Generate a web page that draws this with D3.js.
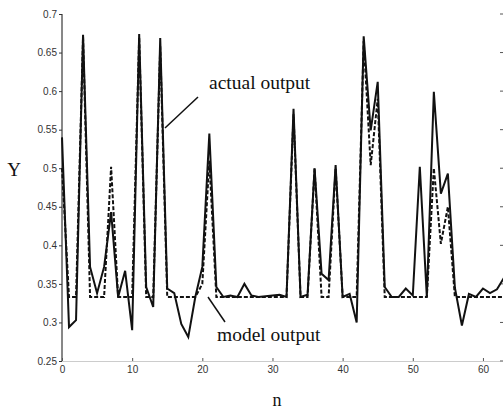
<!DOCTYPE html>
<meta charset="utf-8" />
<style>
  body {
    margin: 0;
    background: #fff;
  }

  .tick text {
    font-family: "Liberation Sans", Arial, sans-serif;
    font-size: 10px;
    fill: #333;
  }

  .label {
    font-family: "Liberation Serif", "Times New Roman", serif;
    fill: #111;
  }

  .series {
    fill: none;
    stroke: #111;
    stroke-width: 2px;
    stroke-linejoin: miter;
  }
</style>
<svg width="503" height="412"></svg>
<script src="https://d3js.org/d3.v7.min.js"></script>
<script>
  // values, n = 0..63
  var actual = [
    0.54, 0.294, 0.303, 0.673, 0.372, 0.338, 0.372, 0.443, 0.333, 0.367,
    0.29, 0.674, 0.346, 0.32, 0.669, 0.344, 0.338, 0.298, 0.281, 0.333,
    0.372, 0.545, 0.346, 0.333, 0.335, 0.333, 0.35, 0.335, 0.333, 0.334,
    0.335, 0.336, 0.333, 0.577, 0.333, 0.336, 0.5, 0.363, 0.355, 0.504,
    0.333, 0.337, 0.3, 0.671, 0.549, 0.612, 0.346, 0.333, 0.333, 0.344,
    0.335, 0.502, 0.333, 0.599, 0.467, 0.493, 0.345, 0.296, 0.337, 0.333,
    0.344, 0.338, 0.343, 0.358
  ];
  var model = [
    0.5, 0.333, 0.333, 0.67, 0.333, 0.333, 0.333, 0.502, 0.333, 0.333,
    0.333, 0.67, 0.333, 0.333, 0.658, 0.333, 0.333, 0.333, 0.333, 0.333,
    0.35, 0.51, 0.333, 0.333, 0.333, 0.333, 0.333, 0.333, 0.333, 0.333,
    0.333, 0.333, 0.333, 0.57, 0.333, 0.333, 0.5, 0.333, 0.333, 0.5,
    0.333, 0.333, 0.333, 0.665, 0.504, 0.59, 0.333, 0.333, 0.333, 0.333,
    0.333, 0.333, 0.333, 0.5, 0.402, 0.45, 0.333, 0.333, 0.333, 0.333,
    0.333, 0.333, 0.333, 0.333
  ];
  var xTicks = [0, 10, 20, 30, 40, 50, 60];
  var yTicks = [0.25, 0.3, 0.35, 0.4, 0.45, 0.5, 0.55, 0.6, 0.65, 0.7];

  var svg = d3.select("svg");

  var x = d3.scaleLinear().domain([0, 63]).range([62, 504]);
  var y = d3.scaleLinear().domain([0.25, 0.7]).range([361, 14]);

  // left axis
  var yAxis = svg
    .append("g")
    .attr("transform", "translate(62,0)")
    .call(
      d3.axisLeft(y).tickValues(yTicks).tickSize(3).tickPadding(2)
        .tickFormat(d3.format(""))
    );
  yAxis.select(".domain").attr("stroke", "#111").attr("d", "M0,14V361");
  yAxis.selectAll(".tick line").attr("stroke", "#333");

  // right side ticks only (box edge falls off the picture)
  svg
    .append("g")
    .selectAll("line")
    .data(yTicks)
    .enter()
    .append("line")
    .attr("x1", 504)
    .attr("x2", 500)
    .attr("y1", function (d) {
      return y(d);
    })
    .attr("y2", function (d) {
      return y(d);
    })
    .attr("stroke", "#555");

  // bottom axis, dotted
  var xAxis = svg
    .append("g")
    .attr("transform", "translate(0,361)")
    .call(d3.axisBottom(x).tickValues(xTicks).tickSizeInner(-3).tickSizeOuter(0).tickPadding(5));
  xAxis
    .select(".domain")
    .attr("stroke", "#999")
    .attr("stroke-dasharray", "1,1");
  xAxis.selectAll(".tick line").attr("stroke", "#555");

  var line = d3
    .line()
    .x(function (d, i) {
      return x(i);
    })
    .y(function (d) {
      return y(d);
    });

  svg
    .append("path")
    .datum(model)
    .attr("class", "series")
    .attr("stroke-dasharray", "4,2")
    .attr("d", line);

  svg
    .append("path")
    .datum(actual)
    .attr("class", "series")
    .attr("d", line);

  // axis labels
  svg.append("text").attr("class", "label").attr("x", 14).attr("y", 176)
    .attr("text-anchor", "middle").attr("font-size", 19).text("Y");
  svg.append("text").attr("class", "label").attr("x", 277).attr("y", 406)
    .attr("text-anchor", "middle").attr("font-size", 18).text("n");

  // annotations
  svg.append("line").attr("x1", 198).attr("y1", 97).attr("x2", 165).attr("y2", 128)
    .attr("stroke", "#111").attr("stroke-width", 1.5);
  svg.append("text").attr("class", "label").attr("x", 209).attr("y", 89)
    .attr("font-size", 19.5).text("actual output");

  svg.append("line").attr("x1", 208).attr("y1", 297).attr("x2", 225).attr("y2", 322)
    .attr("stroke", "#111").attr("stroke-width", 1.5);
  svg.append("text").attr("class", "label").attr("x", 217).attr("y", 341)
    .attr("font-size", 19.5).text("model output");
</script>
